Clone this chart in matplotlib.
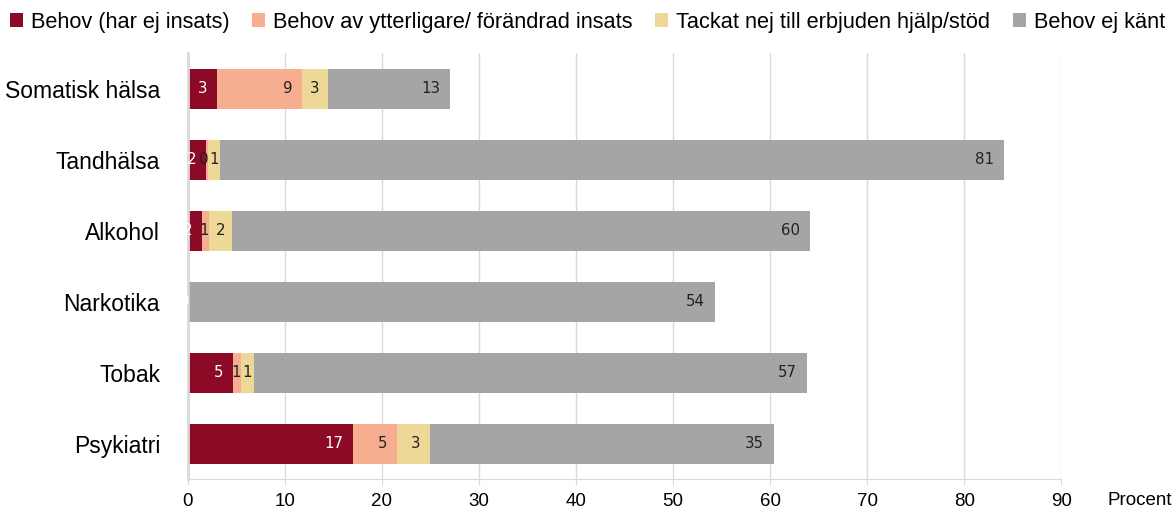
import numpy as np
import matplotlib.pyplot as plt

categories = ["Somatisk hälsa", "Tandhälsa", "Alkohol", "Narkotika", "Tobak", "Psykiatri"]
series_names = ["Behov (har ej insats)", "Behov av ytterligare/ förändrad insats",
                "Tackat nej till erbjuden hjälp/stöd", "Behov ej känt"]
behov = [3.0, 1.9, 1.5, 0.2, 4.7, 17.0]
ytterligare = [8.8, 0.2, 0.7, 0.0, 0.8, 4.6]
tackat_nej = [2.6, 1.2, 2.3, 0.0, 1.3, 3.4]
ej_kant = [12.6, 80.8, 59.6, 54.1, 57.0, 35.4]

colors = ["#8C0A26", "#F7AD8F", "#EED897", "#A5A5A5"]
label_colors = ["white", "#222222", "#222222", "#222222"]

plt.rcParams['font.family'] = ['Liberation Sans', 'DejaVu Sans']

fig = plt.figure(figsize=(11.74, 5.12), dpi=100)
ax = fig.add_axes([0.160, 0.064, 0.744, 0.832])

xmax = 90
px_per_unit = 0.744 * 1174 / xmax
label_size = 10.8
digit_px = 0.636 * label_size * 100 / 72

y = np.arange(len(categories))
left = np.zeros(len(categories))
for k, (vals, name, col, lcol) in enumerate(zip([behov, ytterligare, tackat_nej, ej_kant],
                                                series_names, colors, label_colors)):
    vals = np.array(vals)
    ax.barh(y, vals, left=left, height=0.565, color=col, label=name, zorder=2)
    for yi, (l, v) in enumerate(zip(left, vals)):
        # segments of width 0 only get a label in the first series
        if v == 0 and k > 0:
            continue
        txt = f"{v:.0f}"
        w_px = v * px_per_unit
        tw = digit_px * len(txt)
        # inside end with a 10 px gap, centred when the segment is too narrow
        if k == 0 and w_px > tw:
            pad = 10
        else:
            pad = min(10, max((w_px - tw) / 2, 0))
        ax.annotate(txt, (l + v, yi), xytext=(-pad * 0.72, 0), textcoords='offset points',
                    ha='right', va='center', color=lcol, fontsize=label_size,
                    family='DejaVu Sans', zorder=3)
    left += vals

ax.set_ylim(len(categories) - 0.5, -0.5)
ax.set_xlim(0, xmax)
ax.set_xticks(np.arange(0, 91, 10))
ax.set_yticks(y)
ax.set_yticklabels(categories, fontsize=16.5)
ax.tick_params(axis='x', labelsize=13.5, length=4, color='#D9D9D9', pad=6)
ax.tick_params(axis='y', length=0, pad=20)
ax.xaxis.grid(True, color='#D9D9D9', linewidth=1, zorder=0)
ax.set_axisbelow(True)
for s in ['top', 'right']:
    ax.spines[s].set_visible(False)
ax.spines['bottom'].set_color('#D9D9D9')
ax.spines['left'].set_color('#D9D9D9')
ax.spines['left'].set_linewidth(2)

fig.text(0.971, 0.022, "Procent", ha='center', va='center', fontsize=13.5)

fig.legend(loc='center left', bbox_to_anchor=(0.0085, 0.957), ncol=4, frameon=False,
           fontsize=15.7, handlelength=0.6, handleheight=0.6, handletextpad=0.35,
           columnspacing=1.05, borderaxespad=0, borderpad=0)

fig.savefig("out.png", dpi=100)
